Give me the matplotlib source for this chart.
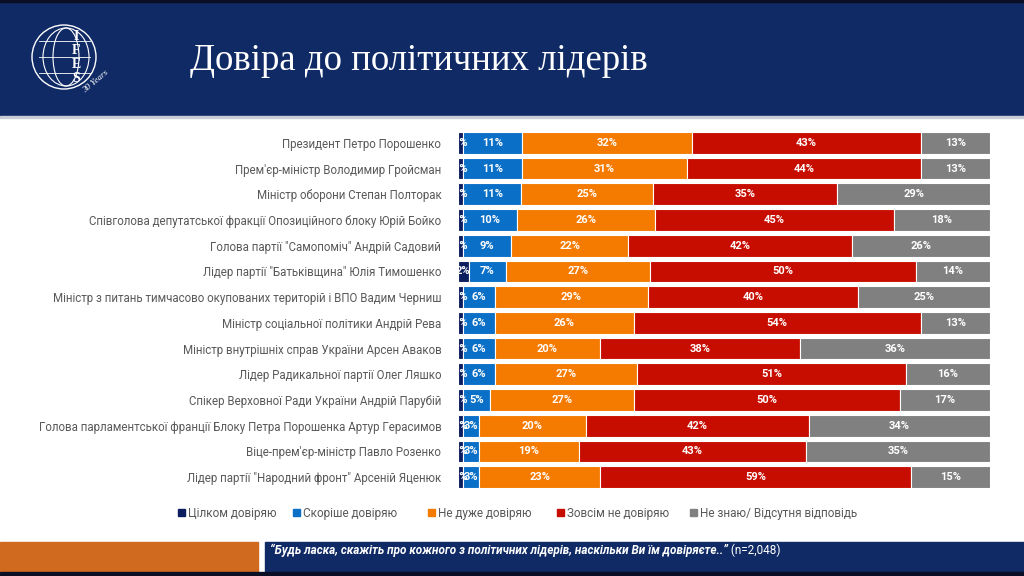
import numpy as np
import matplotlib.pyplot as plt
from matplotlib.patches import Rectangle, Circle, Ellipse

plt.rcParams['font.family'] = ['Roboto', 'DejaVu Sans']

# data (percent)
leaders = [
    'Президент Петро Порошенко',
    "Прем'єр-міністр Володимир Гройсман",
    'Міністр оборони Степан Полторак',
    'Співголова депутатської фракції Опозиційного блоку Юрій Бойко',
    'Голова партії "Самопоміч" Андрій Садовий',
    'Лідер партії "Батьківщина" Юлія Тимошенко',
    'Міністр з питань тимчасово окупованих територій і ВПО Вадим Черниш',
    'Міністр соціальної політики Андрій Рева',
    'Міністр внутрішніх справ України Арсен Аваков',
    'Лідер Радикальної партії Олег Ляшко',
    'Спікер Верховної Ради України Андрій Парубій',
    'Голова парламентської франції Блоку Петра Порошенка Артур Герасимов',
    "Віце-прем'єр-міністр Павло Розенко",
    'Лідер партії "Народний фронт" Арсеній Яценюк',
]
fully_trust = [1, 1, 1, 1, 1, 2, 1, 1, 1, 1, 1, 1, 1, 1]
rather_trust = [11, 11, 11, 10, 9, 7, 6, 6, 6, 6, 5, 3, 3, 3]
not_really = [32, 31, 25, 26, 22, 27, 29, 26, 20, 27, 27, 20, 19, 23]
not_at_all = [43, 44, 35, 45, 42, 50, 40, 54, 38, 51, 50, 42, 43, 59]
dont_know = [13, 13, 29, 18, 26, 14, 25, 13, 36, 16, 17, 34, 35, 15]

series_names = ['Цілком довіряю', 'Скоріше довіряю', 'Не дуже довіряю',
                'Зовсім не довіряю', 'Не знаю/ Відсутня відповідь']
colors = ['#0b1d5e', '#0a6fc6', '#f57a00', '#c70c00', '#808080']

title = 'Довіра до політичних лідерів'
footer = '“Будь ласка, скажіть про кожного з політичних лідерів, наскільки Ви їм довіряєте..”'
footer_n = ' (n=2,048)'

navy = '#0f2a65'

fig = plt.figure(figsize=(10.24, 5.76), dpi=100)

# background layer in pixel coordinates
bg = fig.add_axes([0, 0, 1, 1])
bg.set_xlim(0, 1024)
bg.set_ylim(576, 0)
bg.axis('off')

# header band + title
bg.add_patch(Rectangle((0, 0), 1024, 116, color=navy, zorder=1))
bg.add_patch(Rectangle((0, 0), 1024, 2, color='#0a0f25', zorder=2))
bg.add_patch(Rectangle((0, 116), 1024, 2, color='#c8ccd4', zorder=1))
bg.text(190, 61, title, color='white', fontsize=26.5, va='center', ha='left',
        family=['Liberation Serif', 'DejaVu Serif'])

# rough IFES logo
bg.add_patch(Circle((64, 57), 32, fill=False, ec='white', lw=1.0, zorder=3))
for w in [46, 26]:
    bg.add_patch(Ellipse((66, 57), w, 58, fill=False, ec='white', lw=0.8, zorder=3))
for dy in [-16, 0, 16]:
    bg.plot([39, 90], [57 + dy, 57 + dy], color='white', lw=0.6, zorder=3)
for i, ch in enumerate('IFES'):
    bg.text(76, 36 + i * 14, ch, color='white', fontsize=10, fontweight='bold',
            ha='center', va='center', family=['Liberation Serif', 'DejaVu Serif'], zorder=4)
bg.text(96, 82, '30 Years', color='white', fontsize=6.5, rotation=40, style='italic',
        ha='center', va='center', family=['Liberation Serif', 'DejaVu Serif'], zorder=4)

# footer
bg.add_patch(Rectangle((0, 542), 258, 30, color='#d06a1e', zorder=1))
bg.add_patch(Rectangle((265, 542), 759, 30, color=navy, zorder=1))
bg.add_patch(Rectangle((0, 572), 1024, 4, color='#0a0f25', zorder=2))
t = bg.text(270, 550, footer, color='white', fontsize=8.5, style='italic',
            fontweight='bold', va='center', ha='left', zorder=3)
fig.canvas.draw()
bb = t.get_window_extent()
bg.text(bb.x1, 550, footer_n, color='white', fontsize=8.5, va='center', ha='left', zorder=3)

# legend (manual, like the slide)
legend_x = [178, 293, 428, 557, 690]
for x, name, c in zip(legend_x, series_names, colors):
    bg.add_patch(Rectangle((x, 509), 7, 7, color=c, zorder=3))
    bg.text(x + 10, 513, name, color='#595959', fontsize=8.5, va='center', ha='left')

# stacked bars, each row shown as 100%
ax = fig.add_axes([458 / 1024, 1 - 490 / 576, 532 / 1024, 360 / 576])
y = np.arange(len(leaders))
data = np.array([fully_trust, rather_trust, not_really, not_at_all, dont_know], dtype=float)
shares = data / data.sum(axis=0) * 100
left = np.zeros(len(leaders))
for vals, raw, c, name in zip(shares, data, colors, series_names):
    ax.barh(y, vals, left=left, height=0.84, color=c, edgecolor='white',
            linewidth=0.8, label=name)
    for yi, (l, v, r) in enumerate(zip(left, vals, raw)):
        ax.text(l + v / 2, yi, f'{int(r)}%', color='white', fontsize=8, fontweight='bold',
                ha='center', va='center', clip_on=True)
    left += vals

ax.set_xlim(0, 100)
ax.set_ylim(len(leaders) - 0.5, -0.5)
ax.set_yticks(y)
ax.set_yticklabels(leaders, fontsize=8.3, color='#595959')
ax.tick_params(axis='y', length=0, pad=12)
ax.set_xticks([])
for s in ax.spines.values():
    s.set_visible(False)

fig.savefig('out.png', dpi=100)
